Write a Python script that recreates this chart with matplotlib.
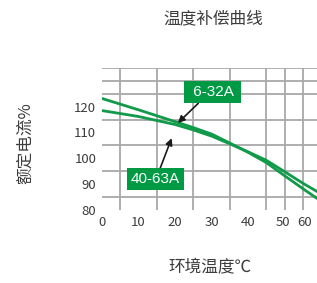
import matplotlib
matplotlib.use("Agg")
import matplotlib.pyplot as plt

plt.rcParams['font.family'] = ['Noto Sans CJK SC', 'DejaVu Sans']

# ==== 数据 ====
temps = [0, 10, 20, 25, 30, 35, 40, 45, 50, 55, 59]
curve_6_32 = [123.2, 118.8, 114.2, 111.9, 109.4, 105.9, 102.3, 98.3, 93.2, 88.2, 84.3]
curve_40_63 = [118.5, 116.2, 113.1, 111.0, 108.6, 105.6, 102.5, 99.2, 94.8, 90.3, 87.0]
x_tick_pos = [0, 10, 20, 30, 40, 49.6, 55.5]
x_tick_labels = ["0", "10", "20", "30", "40", "50", "60"]
y_ticks = [80, 90, 100, 110, 120]

green = "#009a44"
line_green = "#119a4a"
text_grey = "#3c3c3c"

fig = plt.figure(figsize=(3.17, 2.83), dpi=100)
ax = fig.add_axes([0.321, 0.258, 0.679, 0.502])

ax.plot(temps, curve_6_32, color=line_green, lw=2)
ax.plot(temps, curve_40_63, color=line_green, lw=2)

ax.set_xlim(0, 58.8)
ax.set_ylim(80, 135)
ax.set_xticks(range(0, 60, 5), minor=True)
ax.set_yticks(range(80, 136, 5), minor=True)
ax.set_xticks(x_tick_pos)
ax.set_xticklabels(x_tick_labels)
ax.set_yticks(y_ticks)
ax.grid(which="minor", color="#a8a8a8", lw=1.3)
ax.tick_params(which="both", length=0, labelsize=9.5, colors=text_grey, pad=4)
for s in ax.spines.values():
    s.set_visible(False)
ax.set_axisbelow(True)

# 标注
ax.annotate(" 6-32A ", xy=(20.8, 113.7), xytext=(30.3, 125.6),
            ha="center", va="center", color="white", fontsize=11,
            family="Liberation Sans",
            bbox=dict(boxstyle="square,pad=0.27", fc=green, ec="none"),
            arrowprops=dict(arrowstyle="-|>", color="#1a1a1a", lw=1.2,
                            relpos=(0.29, 0), shrinkA=0, shrinkB=0,
                            mutation_scale=10))
ax.annotate("40-63A", xy=(19.1, 107.8), xytext=(14.6, 91.9),
            ha="center", va="center", color="white", fontsize=11,
            family="Liberation Sans",
            bbox=dict(boxstyle="square,pad=0.27", fc=green, ec="none"),
            arrowprops=dict(arrowstyle="-|>", color="#1a1a1a", lw=1.2,
                            relpos=(0.57, 1), shrinkA=0, shrinkB=0,
                            mutation_scale=10))

fig.text(0.672, 0.935, "温度补偿曲线", ha="center", va="center", fontsize=12, color=text_grey)
fig.text(0.662, 0.053, "环境温度℃", ha="center", va="center", fontsize=12, color=text_grey)
fig.text(0.079, 0.496, "额定电流%", ha="center", va="center", rotation=90, fontsize=12, color=text_grey)

fig.savefig("out.png", dpi=100)
